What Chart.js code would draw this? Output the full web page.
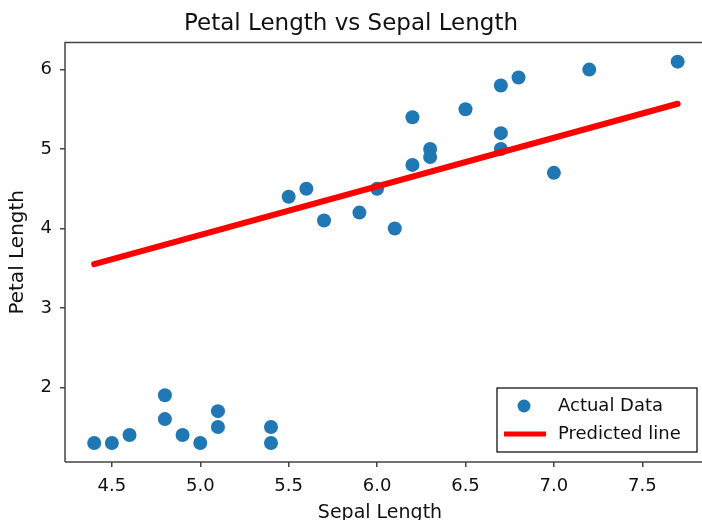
<!DOCTYPE html>
<html>
<head>
<meta charset="utf-8">
<script src="https://cdn.jsdelivr.net/npm/chart.js@4/dist/chart.umd.min.js"></script>
<style>
  html, body { margin: 0; padding: 0; background: #fff; }
  #wrap { width: 702px; height: 520px; position: relative; }
</style>
</head>
<body>
<div id="wrap"><canvas id="c" width="702" height="520"></canvas></div>
<script>
// ---- data ----
const sepalLength = [4.4, 4.5, 4.6, 4.8, 4.8, 4.9, 5.0, 5.1, 5.1, 5.4, 5.4,
                     5.5, 5.6, 5.7, 5.9, 6.0, 6.1, 6.2, 6.2, 6.3, 6.3, 6.5,
                     6.7, 6.7, 6.7, 6.8, 7.0, 7.2, 7.7];
const petalLength = [1.3, 1.3, 1.4, 1.9, 1.6, 1.4, 1.3, 1.7, 1.5, 1.5, 1.3,
                     4.4, 4.5, 4.1, 4.2, 4.5, 4.0, 5.4, 4.8, 5.0, 4.9, 5.5,
                     5.8, 5.2, 5.0, 5.9, 4.7, 6.0, 6.1];
const lineX = [4.4, 7.7];
const lineY = [3.55, 5.57];
const xTicks = [4.5, 5.0, 5.5, 6.0, 6.5, 7.0, 7.5];
const yTicks = [2, 3, 4, 5, 6];
const seriesLabels = ['Actual Data', 'Predicted line'];
const titleText = 'Petal Length vs Sepal Length';
const xTitle = 'Sepal Length';
const yTitle = 'Petal Length';

const FONT = "'DejaVu Sans', sans-serif";
const AXIS_COLOR = '#444';

const framePlugin = {
  id: 'frame',
  afterDatasetsDraw(chart) {
    const { ctx, chartArea: a } = chart;
    ctx.save();
    ctx.strokeStyle = AXIS_COLOR;
    ctx.lineWidth = 1.5;
    ctx.beginPath();
    ctx.moveTo(a.left, a.bottom);
    ctx.lineTo(a.left, a.top);
    ctx.lineTo(chart.width, a.top);
    ctx.moveTo(a.left, a.bottom);
    ctx.lineTo(chart.width, a.bottom);
    ctx.stroke();
    ctx.restore();
  }
};

const legendPlugin = {
  id: 'boxLegend',
  afterDraw(chart) {
    const { ctx, chartArea: a } = chart;
    const ds = chart.data.datasets;
    const boxR = chart.width - 5, boxB = a.bottom - 10;
    const boxW = 200, boxH = 64;
    const boxL = boxR - boxW, boxT = boxB - boxH;
    ctx.save();
    ctx.fillStyle = '#fff';
    ctx.fillRect(boxL, boxT, boxW, boxH);
    ctx.strokeStyle = '#000';
    ctx.lineWidth = 1.2;
    ctx.strokeRect(boxL, boxT, boxW, boxH);
    ctx.font = '18px ' + FONT;
    ctx.textBaseline = 'middle';
    const rows = [boxT + 18, boxT + 46];
    // scatter entry
    ctx.beginPath();
    ctx.fillStyle = ds[1].backgroundColor;
    ctx.arc(boxL + 27, rows[0], 6.5, 0, Math.PI * 2);
    ctx.fill();
    // line entry
    ctx.strokeStyle = ds[0].borderColor;
    ctx.lineWidth = 5;
    ctx.beginPath();
    ctx.moveTo(boxL + 7, rows[1]);
    ctx.lineTo(boxL + 49, rows[1]);
    ctx.stroke();
    ctx.fillStyle = '#111';
    ctx.fillText(ds[1].label, boxL + 61, rows[0]);
    ctx.fillText(ds[0].label, boxL + 61, rows[1]);
    ctx.restore();
  }
};

new Chart(document.getElementById('c'), {
  type: 'scatter',
  data: {
    datasets: [
      {
        label: seriesLabels[1],
        type: 'line',
        data: lineX.map((x, i) => ({ x: x, y: lineY[i] })),
        borderColor: '#ff0000',
        backgroundColor: '#ff0000',
        borderWidth: 6,
        borderCapStyle: 'round',
        pointRadius: 0,
        fill: false,
        order: 0
      },
      {
        label: seriesLabels[0],
        data: sepalLength.map((x, i) => ({ x: x, y: petalLength[i] })),
        backgroundColor: '#1f77b4',
        borderWidth: 0,
        pointRadius: 7,
        pointHoverRadius: 7,
        order: 1
      }
    ]
  },
  options: {
    responsive: false,
    animation: false,
    events: [],
    layout: { padding: { left: 0, right: 0, top: 0, bottom: 0 } },
    plugins: {
      legend: { display: false },
      tooltip: { enabled: false },
      title: {
        display: true,
        text: titleText,
        color: '#111',
        font: { family: FONT, size: 23, weight: 'normal' },
        padding: { top: 10, bottom: 5 }
      }
    },
    scales: {
      x: {
        type: 'linear',
        min: 4.235,
        max: 7.798,
        afterBuildTicks: s => { s.ticks = xTicks.map(v => ({ value: v })); },
        afterFit: s => { s.height = 58; },
        ticks: {
          color: '#111',
          font: { family: FONT, size: 18 },
          padding: 9,
          maxRotation: 0,
          callback: v => Number(v).toFixed(1)
        },
        grid: { display: true, drawOnChartArea: false, drawTicks: true, tickLength: 5, color: AXIS_COLOR, lineWidth: 1.5 },
        border: { display: false },
        title: {
          display: true,
          text: xTitle,
          color: '#111',
          font: { family: FONT, size: 19 },
          padding: { top: 0, bottom: -4 }
        }
      },
      y: {
        type: 'linear',
        min: 1.06,
        max: 6.34,
        afterBuildTicks: s => { s.ticks = yTicks.map(v => ({ value: v })); },
        afterFit: s => { s.width = 65; },
        ticks: {
          color: '#111',
          font: { family: FONT, size: 18 },
          padding: 8,
          callback: v => String(v)
        },
        grid: { display: true, drawOnChartArea: false, drawTicks: true, tickLength: 5, color: AXIS_COLOR, lineWidth: 1.5 },
        border: { display: false },
        title: {
          display: true,
          text: yTitle,
          color: '#111',
          font: { family: FONT, size: 20 },
          padding: { top: 6, bottom: 0 }
        }
      }
    }
  },
  plugins: [framePlugin, legendPlugin]
});
</script>
</body>
</html>
